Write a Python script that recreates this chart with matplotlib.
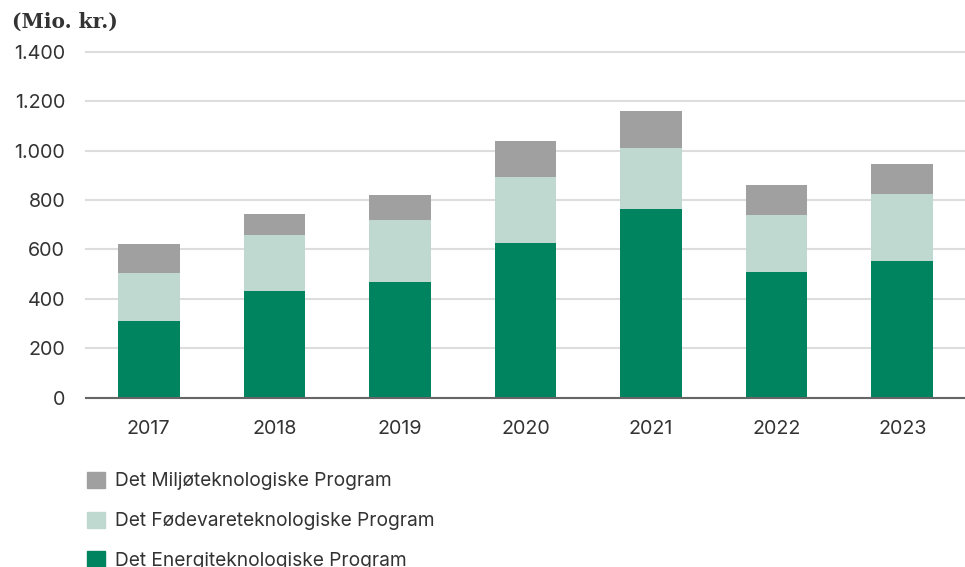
import matplotlib.pyplot as plt
from matplotlib.patches import Patch

years = ['2017', '2018', '2019', '2020', '2021', '2022', '2023']
energi = [311, 430, 470, 625, 762, 510, 552]
foedevare = [193, 227, 250, 270, 250, 228, 272]
miljoe = [116, 88, 100, 145, 150, 124, 122]

c_energi = '#00845F'
c_foede = '#BFD9D0'
c_miljoe = '#A0A0A0'
txt = '#333333'

plt.rcParams['font.family'] = ['Inter', 'DejaVu Sans']

fig = plt.figure(figsize=(9.65, 5.67), dpi=100)
ax = fig.add_axes([86 / 965, 169.3 / 567, 879 / 965, 346 / 567])

x = list(range(len(years)))
bottom2 = [a + b for a, b in zip(energi, foedevare)]
w = 0.49
ax.bar(x, energi, width=w, color=c_energi, zorder=3)
ax.bar(x, foedevare, width=w, bottom=energi, color=c_foede, zorder=3)
ax.bar(x, miljoe, width=w, bottom=bottom2, color=c_miljoe, zorder=3)

ax.set_xlim(-0.5, 6.5)
ax.set_ylim(0, 1400)
ax.set_yticks(range(0, 1401, 200))
ax.set_yticklabels([f'{v:,}'.replace(',', '.') for v in range(0, 1401, 200)])
ax.set_xticks(x)
ax.set_xticklabels(years)
ax.tick_params(axis='both', length=0, labelsize=14.2, colors=txt)
ax.tick_params(axis='y', pad=15)
ax.tick_params(axis='x', pad=16)

ax.grid(axis='y', color='#DDDDDD', linewidth=1.5, zorder=0)
for gl in ax.get_ygridlines():
    gl.set_clip_on(False)
for s in ['top', 'right', 'left']:
    ax.spines[s].set_visible(False)
ax.spines['bottom'].set_color('#666666')
ax.spines['bottom'].set_linewidth(1.5)
ax.spines['bottom'].set_zorder(4)

fig.text(12 / 965, 1 - 22 / 567, '(Mio. kr.)', family='DejaVu Serif',
         fontweight='bold', fontsize=14.5, color=txt, va='center', ha='left')

handles = [Patch(color=c_miljoe), Patch(color=c_foede), Patch(color=c_energi)]
labels = ['Det Miljøteknologiske Program', 'Det Fødevareteknologiske Program',
          'Det Energiteknologiske Program']
fig.legend(handles, labels, loc='upper left', bbox_to_anchor=(81 / 965, 1 - 466 / 567),
           frameon=False, fontsize=13.8, handlelength=0.93, handleheight=0.93,
           handletextpad=0.55, labelspacing=1.1, labelcolor=txt, borderaxespad=0,
           borderpad=0.3)

fig.savefig('out.png', dpi=100)
